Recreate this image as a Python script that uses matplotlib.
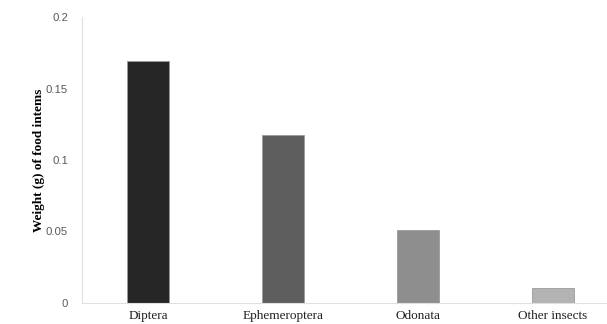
import numpy as np
import matplotlib
matplotlib.use('Agg')
import matplotlib.pyplot as plt

categorias = ['Diptera', 'Ephemeroptera', 'Odonata', 'Other insects']
pesos = [0.169, 0.1175, 0.051, 0.0103]
colors = ['#262626', '#5e5e5e', '#8e8e8e', '#b3b3b3']
yticks = [0, 0.05, 0.1, 0.15, 0.2]
yticklabels = ['0', '0.05', '0.1', '0.15', '0.2']

fig = plt.figure(figsize=(6.07, 3.24), dpi=100)
ax = fig.add_axes([0.135, 0.065, 0.865, 0.882])

x = np.arange(len(categorias))
ax.bar(x, pesos, width=0.31, color=colors, edgecolor='#9a9a9a', linewidth=0.6)

ax.set_xlim(-0.49, 3.4)
ax.set_ylim(0, 0.2)
ax.set_yticks(yticks)
ax.set_yticklabels(yticklabels, fontsize=8.2, color='#595959', family='Liberation Sans')
ax.set_xticks(x)
ax.set_xticklabels(categorias, fontsize=9.5, family='Liberation Serif', color='#222222')
ax.tick_params(length=0)
ax.tick_params(axis='y', pad=10)
ax.tick_params(axis='x', pad=5)

for s in ['top', 'right']:
    ax.spines[s].set_visible(False)
for s in ['left', 'bottom']:
    ax.spines[s].set_color('#e0e0e0')
    ax.spines[s].set_linewidth(0.8)

ax.set_ylabel('Weight (g) of food intems', fontsize=9.5, fontweight='bold', family='Liberation Serif', labelpad=1)

fig.savefig('out.png', dpi=100)
